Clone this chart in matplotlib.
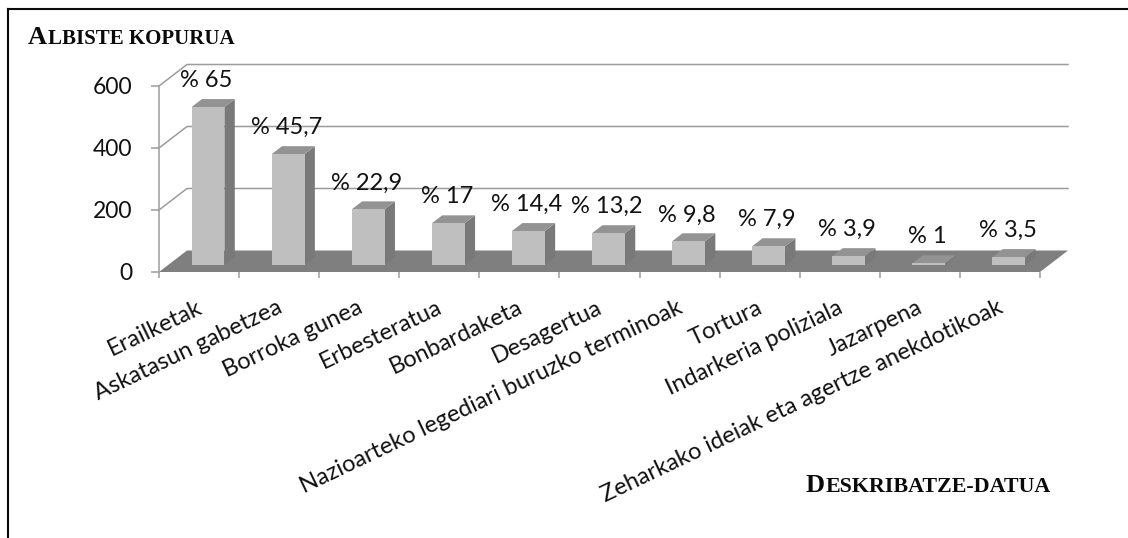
import matplotlib
matplotlib.use("Agg")
import matplotlib.pyplot as plt
import matplotlib.transforms as mtrans
import numpy as np

categories = ["Erailketak", "Askatasun gabetzea", "Borroka gunea", "Erbesteratua",
              "Bonbardaketa", "Desagertua", "Nazioarteko legediari buruzko terminoak",
              "Tortura", "Indarkeria poliziala", "Jazarpena",
              "Zeharkako ideiak eta agertze anekdotikoak"]
news_count = [510, 358, 180, 135, 110, 103, 77, 61, 29, 6, 26]
percent_labels = ["% 65", "% 45,7", "% 22,9", "% 17", "% 14,4", "% 13,2",
                  "% 9,8", "% 7,9", "% 3,9", "% 1", "% 3,5"]
y_ticks = [0, 200, 400, 600]

W, H = 1128, 538
fig = plt.figure(figsize=(W / 100, H / 100), dpi=100, facecolor="white")
plt.rcParams["font.family"] = ["Lato", "DejaVu Sans"]

L, R, T, B = 159, 1040, 86, 272
ax = fig.add_axes([L / W, 1 - B / H, (R - L) / W, (B - T) / H])
n = len(categories)
ax.set_xlim(0, n)
ax.set_ylim(0, 600)
ax.patch.set_visible(False)
for s in ax.spines.values():
    s.set_visible(False)

px_x = (R - L) / n
px_y = (B - T) / 600
DX = 28 / px_x      # depth offset of the 3-D box, in category units
DY = 21.5 / px_y    # depth offset of the 3-D box, in value units
GRID = "#9c9c9c"
FLOOR = "#7f7f7f"

# walls and floor
ax.plot([0, 0], [0, 600], color=GRID, lw=1.1, clip_on=False, zorder=1)
for v in y_ticks[1:]:
    ax.plot([0, DX, n + DX], [v, v + DY, v + DY], color=GRID, lw=1.1,
            clip_on=False, zorder=1, solid_joinstyle="miter")
ax.fill([0, n, n + DX, DX], [0, 0, DY, DY], color=FLOOR, lw=0, clip_on=False, zorder=2)

# bars
centers = np.arange(n) + 0.5
width = 0.41
d1, d2 = 0.32, 0.69
for c, v in zip(centers, news_count):
    x0 = c - width / 2 + d1 * DX
    x1 = x0 + width
    y0 = d1 * DY
    sx = (d2 - d1) * DX
    sy = (d2 - d1) * DY
    ax.bar(x0 + width / 2, v, width=width, bottom=y0, color="#bfbfbf", lw=0,
           clip_on=False, zorder=4)
    ax.fill([x1, x1 + sx, x1 + sx, x1], [y0, y0 + sy, y0 + v + sy, y0 + v],
            color="#797979", lw=0, clip_on=False, zorder=3)
    ax.fill([x0, x1, x1 + sx, x0 + sx], [y0 + v, y0 + v, y0 + v + sy, y0 + v + sy],
            color="#939393", lw=0, clip_on=False, zorder=3)

# value labels
for c, v, t in zip(centers, news_count, percent_labels):
    ax.annotate(t, (c + d1 * DX, v + d1 * DY), xytext=(-1, 19), textcoords="offset points",
                ha="center", va="center", fontsize=17, color="#111111",
                annotation_clip=False, zorder=6)

# axes ticks
ax.set_yticks(y_ticks)
ax.tick_params(axis="y", length=6, width=1.1, color=GRID, labelsize=16.5,
               labelcolor="#111111", pad=13)
ax.set_xticks(np.arange(n + 1), minor=True)
ax.tick_params(axis="x", which="minor", length=4, width=1.1, color=GRID)
ax.set_xticks(centers)
ax.set_xticklabels(categories, rotation=25.5, ha="right", rotation_mode="anchor",
                   fontsize=17, color="#111111")
ax.tick_params(axis="x", which="major", length=0, pad=18)
shift = mtrans.ScaledTranslation(-3 / 100, 0, fig.dpi_scale_trans)
for lab in ax.get_xticklabels():
    lab.set_transform(lab.get_transform() + shift)

# frame: top and left only
fig.add_artist(plt.Line2D([7.5 / W, 7.5 / W], [0, 1 - 8.5 / H], color="#0a0a0a", lw=1.5,
                          transform=fig.transFigure, solid_capstyle="projecting"))
fig.add_artist(plt.Line2D([7.5 / W, 1], [1 - 8.5 / H, 1 - 8.5 / H], color="#0a0a0a", lw=1.5,
                          transform=fig.transFigure, solid_capstyle="projecting"))

# small-caps titles
def small_caps(x_px, base_px, big, small, fs_big, fs_small):
    r = fig.canvas.get_renderer()
    t1 = fig.text(x_px / W, 1 - base_px / H, big, family="Liberation Serif", weight="bold",
                  fontsize=fs_big, va="baseline", ha="left", color="#0a0a0a")
    ext = t1.get_window_extent(r)
    fig.text((ext.x1 + 0.5) / W, 1 - base_px / H, small, family="Liberation Serif",
             weight="bold", fontsize=fs_small, va="baseline", ha="left", color="#0a0a0a")

small_caps(28, 44, "A", "LBISTE KOPURUA", 19, 15)
small_caps(806, 492, "D", "ESKRIBATZE-DATUA", 19, 15.8)

fig.savefig("out.png", dpi=100, facecolor="white")
